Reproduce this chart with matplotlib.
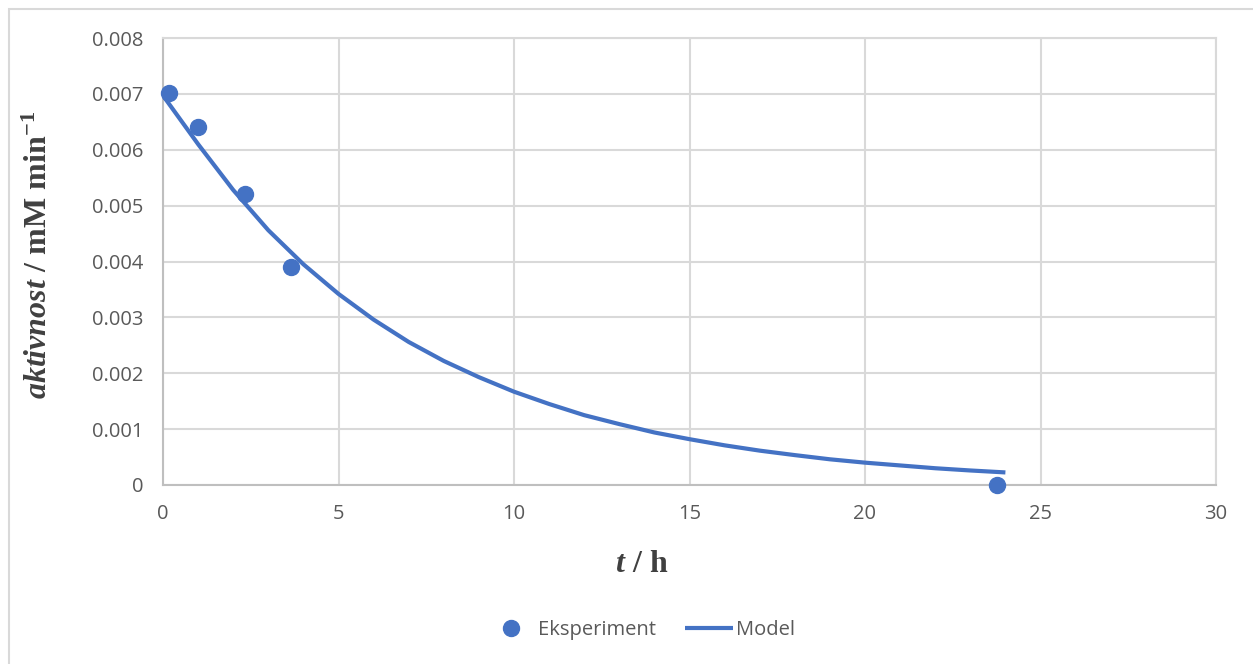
import matplotlib
matplotlib.use("Agg")
import matplotlib.pyplot as plt
from matplotlib.patches import Rectangle

t_exp = [0.18, 0.99, 2.33, 3.64, 23.75]
a_exp = [0.00701, 0.00641, 0.00521, 0.00391, 0.0]

# model curve
t_model = [0, 1, 2, 3, 4, 5, 6, 7, 8, 9, 10, 11, 12,
           13, 14, 15, 16, 17, 18, 19, 20, 21, 22, 23, 24]
a_model = [0.00697, 0.00610, 0.00528, 0.00456, 0.00395, 0.00342, 0.00296,
           0.00256, 0.00222, 0.00193, 0.00167, 0.00145, 0.00125, 0.00109,
           0.00094, 0.00082, 0.00071, 0.000615, 0.000535, 0.00046, 0.00040,
           0.00035, 0.00030, 0.00026, 0.000225]

x_ticks = [0, 5, 10, 15, 20, 25, 30]
y_ticks = [0, 0.001, 0.002, 0.003, 0.004, 0.005, 0.006, 0.007, 0.008]
y_ticklabels = ["0", "0.001", "0.002", "0.003", "0.004", "0.005", "0.006", "0.007", "0.008"]

BLUE = "#4472C4"
GRID = "#d9d9d9"
TXT = "#595959"

plt.rcParams["mathtext.fontset"] = "custom"
plt.rcParams["mathtext.rm"] = "Liberation Serif:bold"
plt.rcParams["mathtext.it"] = "Liberation Serif:bold:italic"
plt.rcParams["mathtext.bf"] = "Liberation Serif:bold"

fig = plt.figure(figsize=(12.53, 6.64), dpi=100)
ax = fig.add_axes([163 / 1253, 1 - 485 / 664, (1216 - 163) / 1253, (485 - 38) / 664])

# chart border like the spreadsheet frame
fig.patches.append(Rectangle((8.5 / 1253, -0.05), 1.2, 1 - 8.5 / 664 + 0.05,
                             transform=fig.transFigure, fill=False,
                             edgecolor=GRID, linewidth=1.5))

ax.plot(t_model, a_model, color=BLUE, linewidth=3, solid_capstyle="butt",
        solid_joinstyle="round", label="Model", zorder=3)
ax.plot(t_exp, a_exp, "o", color=BLUE, markersize=11.5, label="Eksperiment",
        zorder=4, clip_on=False)

ax.set_xlim(0, 30)
ax.set_ylim(0, 0.008)
ax.set_xticks(x_ticks)
ax.set_yticks(y_ticks)
ax.set_yticklabels(y_ticklabels)
ax.tick_params(length=0, labelsize=14.5, labelcolor=TXT, pad=14)
for lab in ax.get_xticklabels() + ax.get_yticklabels():
    lab.set_fontfamily("Open Sans")
ax.grid(True, color=GRID, linewidth=1.5)
ax.set_axisbelow(True)
for sp in ax.spines.values():
    sp.set_color(GRID)
    sp.set_linewidth(1.5)
ax.spines["bottom"].set_color("#bfbfbf")
ax.spines["left"].set_color("#bfbfbf")

fig.text(642 / 1253, 1 - 563 / 664, r"$\mathit{t}\ \mathrm{/\ h}$",
         fontsize=23, ha="center", va="center", color="#404040")
fig.text(39 / 1253, 1 - 255 / 664, r"$\mathit{aktivnost}\ \mathrm{/\ mM\ min^{-1}}$",
         fontsize=23, ha="center", va="center", rotation=90, color="#404040")

h, l = ax.get_legend_handles_labels()
fig.legend([h[1], h[0]], [l[1], l[0]], loc="center", bbox_to_anchor=(641 / 1253, 1 - 630 / 664),
           ncol=2, frameon=False, handlelength=2.4, handletextpad=0.15,
           columnspacing=1.4, prop={"family": "Open Sans", "size": 14.5},
           labelcolor=TXT)

fig.savefig("out.png", dpi=100)
